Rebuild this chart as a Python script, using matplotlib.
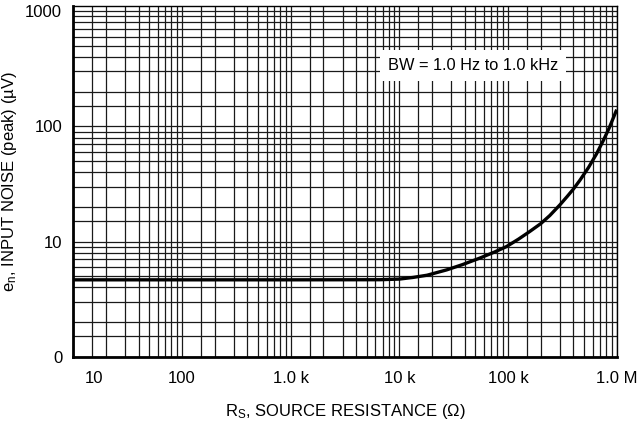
import numpy as np
import matplotlib
matplotlib.use("Agg")
import matplotlib.pyplot as plt
import matplotlib.transforms as mtransforms

plt.rcParams["font.family"] = ["Liberation Sans", "DejaVu Sans"]
plt.rcParams["mathtext.default"] = "regular"

# source resistance (ohm) vs input noise (uV peak)
rs = [10, 1e3, 6.6e3, 1e4, 1.34e4, 1.8e4, 2.72e4, 3.8e4, 5.5e4, 7.5e4, 9.7e4,
      1.25e5, 1.58e5, 2.0e5, 2.42e5, 3.0e5, 3.5e5, 4.0e5, 4.58e5, 5.5e5,
      6.5e5, 7.5e5, 8.5e5, 1e6]
en = [4.65, 4.65, 4.66, 4.72, 4.88, 5.1, 5.67, 6.3, 7.18, 8.1, 9.05,
      10.5, 12.2, 14.3, 16.8, 20.8, 24.6, 28.6, 34.0, 43.9,
      57.4, 74.8, 96.1, 139.7]

xticks = [10, 100, 1e3, 1e4, 1e5, 1e6]
xticklabels = ["10", "100", "1.0 k", "10 k", "100 k", "1.0 M"]
yticks = [1, 10, 100, 1000]
yticklabels = ["0", "10", "100", "1000"]
minor_steps = [1.5, 2, 3, 4, 5, 6, 7, 8, 9]

fig = plt.figure(figsize=(6.42, 4.28), dpi=100)
ax = fig.add_axes([0.1142, 0.1666, 0.8464, 0.8194])

ax.set_xscale("log")
ax.set_yscale("log")
ax.set_xlim(10, 1e6)
ax.set_ylim(1, 1110)

xminor = [m * 10**d for d in range(1, 6) for m in minor_steps]
yminor = [m * 10**d for d in range(0, 4) for m in minor_steps if m * 10**d < 1110]
ax.set_xticks(xticks)
ax.set_xticklabels(xticklabels)
ax.set_xticks(xminor, minor=True)
ax.set_xticklabels([], minor=True)
ax.set_yticks(yticks)
ax.set_yticklabels(yticklabels)
ax.set_yticks(yminor, minor=True)
ax.set_yticklabels([], minor=True)

ax.grid(True, which="both", color="#1a1a1a", linewidth=0.9)
ax.set_axisbelow(True)
ax.tick_params(which="both", length=0, labelsize=12, colors="black")
ax.tick_params(axis="x", pad=10)
ax.tick_params(axis="y", pad=8)

# "10" sits a bit right of its gridline in the original
lab0 = ax.get_xticklabels()[0]
lab0.set_transform(lab0.get_transform() +
                   mtransforms.ScaledTranslation(0.21, 0, fig.dpi_scale_trans))

for s in ["left", "bottom"]:
    ax.spines[s].set_linewidth(2.0)
for s in ["top", "right"]:
    ax.spines[s].set_linewidth(1.0)

ax.plot(rs, en, color="black", linewidth=2.4, solid_joinstyle="round",
        solid_capstyle="butt", zorder=4)

ax.text(7.86e3, 337, "BW = 1.0 Hz to 1.0 kHz", fontsize=11.8, ha="left", va="center",
        bbox=dict(facecolor="white", edgecolor="none", pad=5.5), zorder=5)

ax.set_xlabel(r"R$_{S}$, SOURCE RESISTANCE ($\Omega$)", fontsize=12, labelpad=12)
ax.set_ylabel(r"e$_{n}$, INPUT NOISE (peak) (µV)", fontsize=12)
ax.yaxis.set_label_coords(-0.1, 0.5)

fig.savefig("out.png", dpi=100, facecolor="white")
